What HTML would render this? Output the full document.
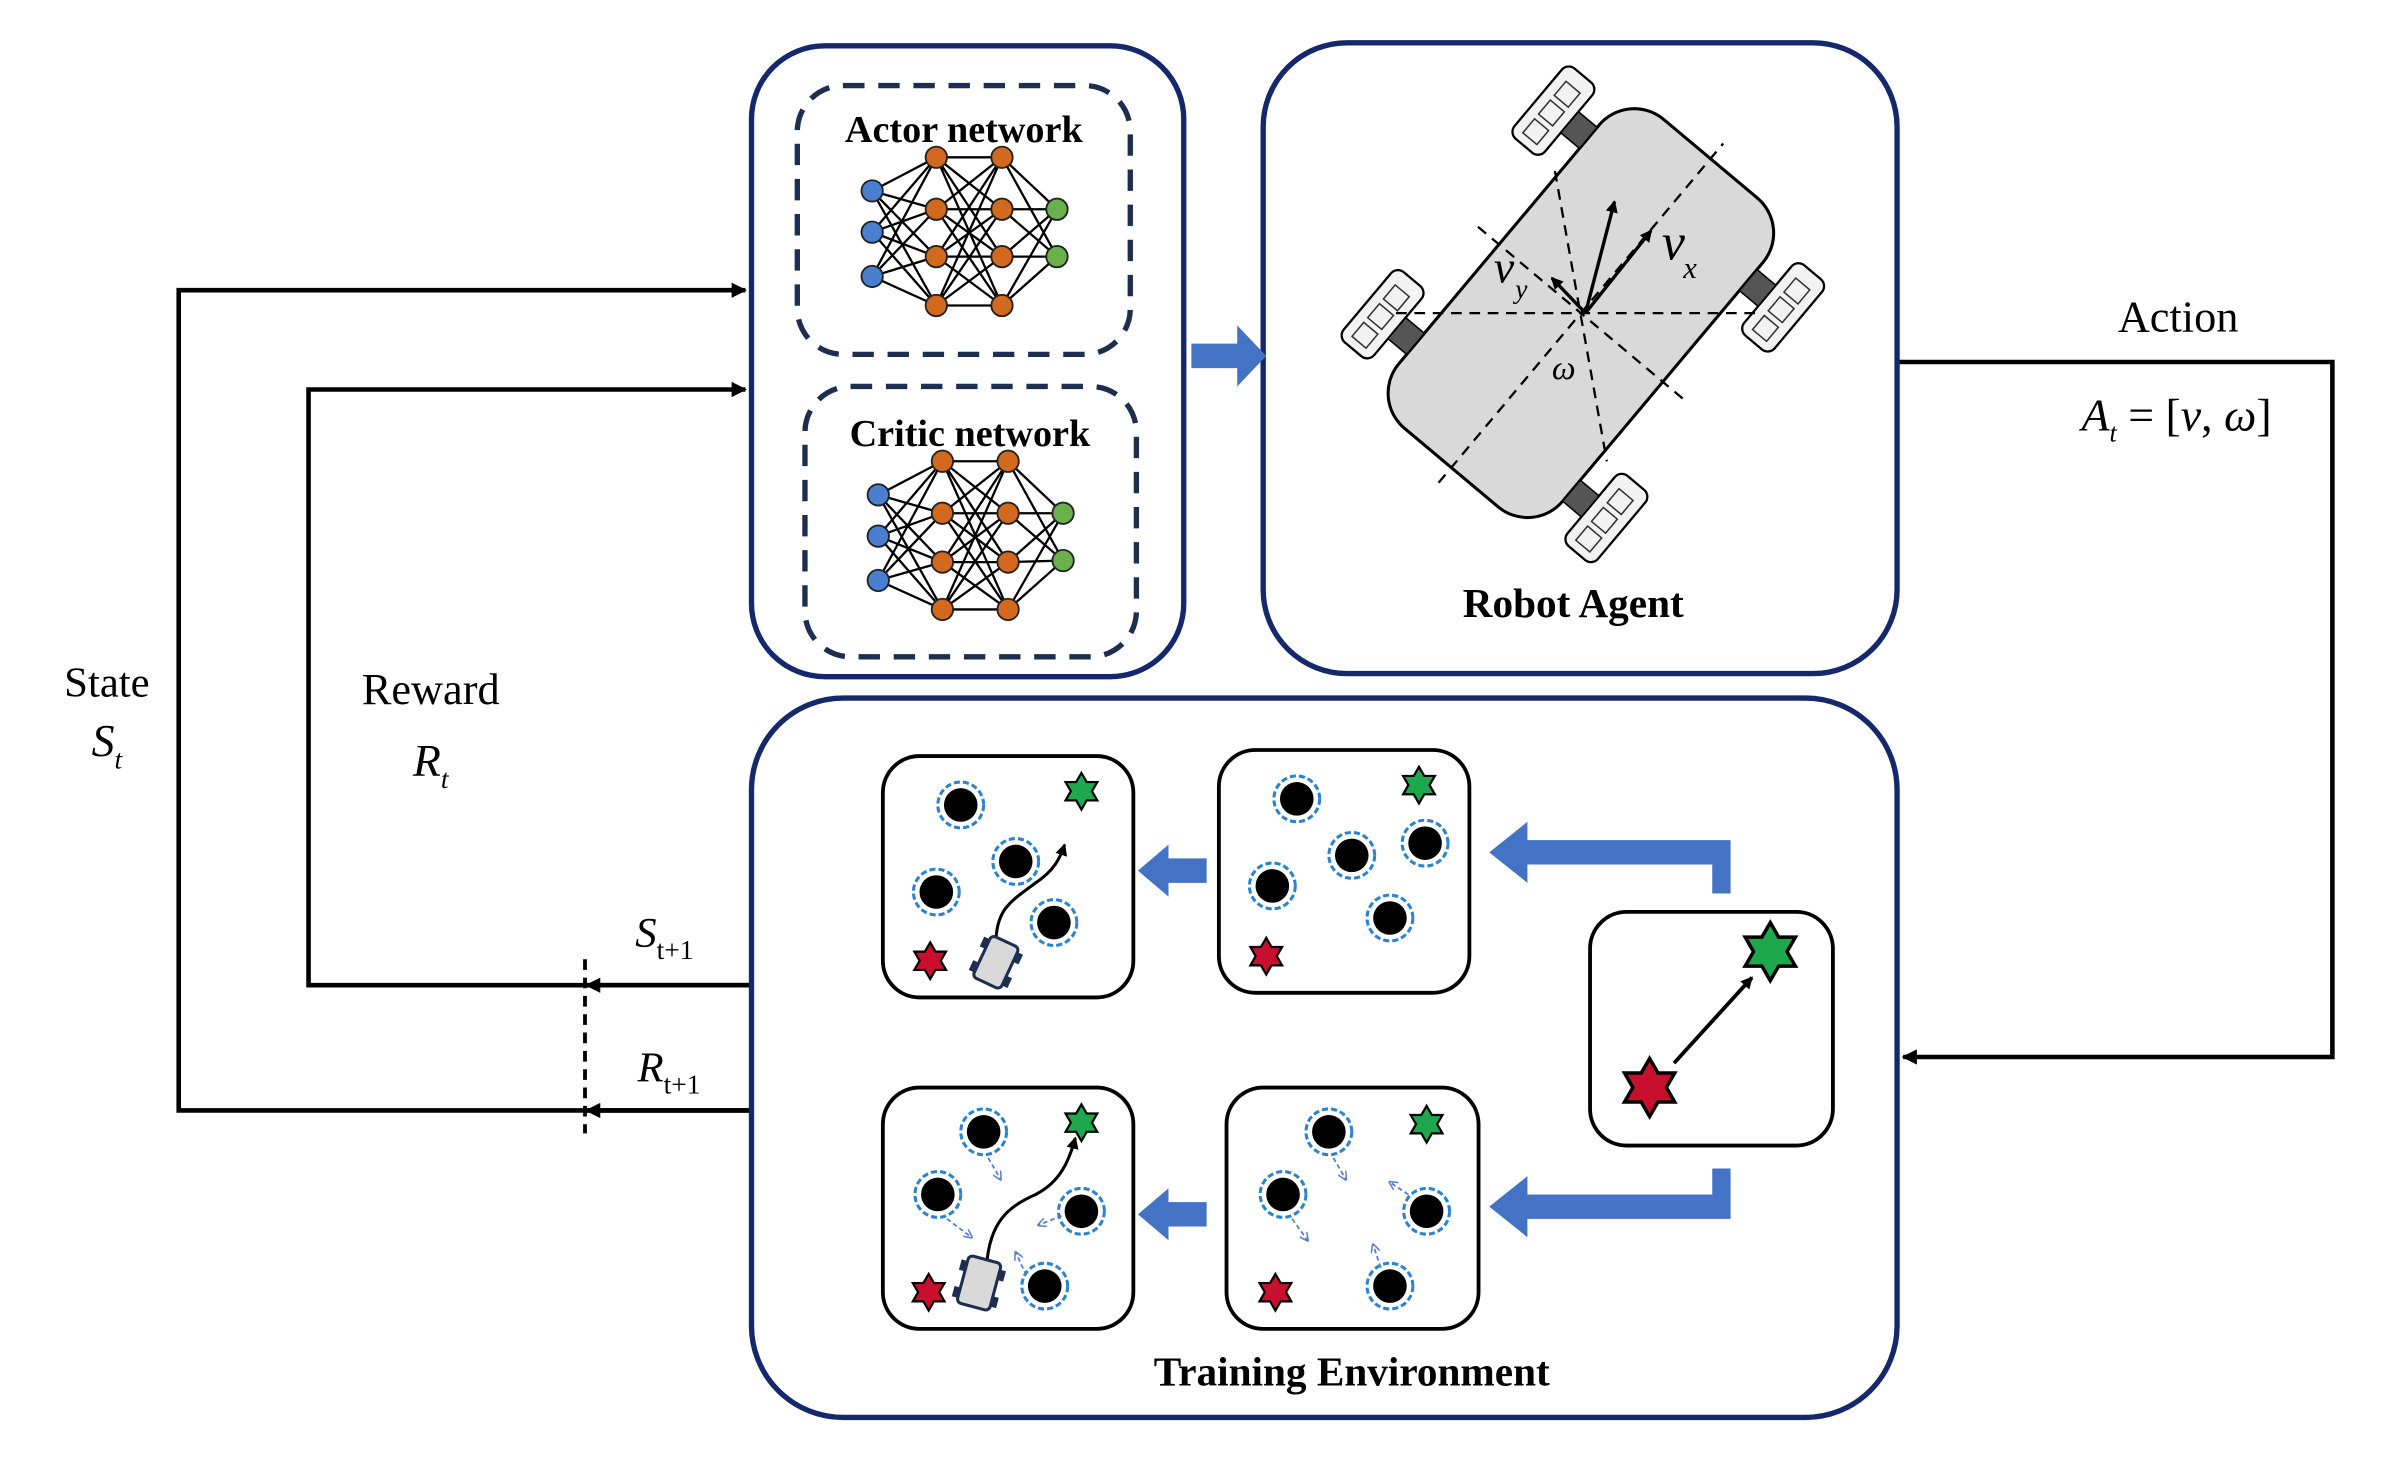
<!DOCTYPE html>
<html><head><meta charset="utf-8"><style>html,body{margin:0;padding:0;background:#fff}svg{display:block}</style></head>
<body>
<svg width="2395" height="1461" viewBox="0 0 1568 956.5" preserveAspectRatio="none" xmlns="http://www.w3.org/2000/svg" font-family="Liberation Serif, serif">
<defs>
<marker id="ah" markerWidth="10" markerHeight="10" refX="9" refY="5" orient="auto" markerUnits="userSpaceOnUse"><path d="M0,0 L10,5 L0,10 Z" fill="#000"/></marker>
<marker id="ahs" markerWidth="8" markerHeight="8" refX="7" refY="4" orient="auto" markerUnits="userSpaceOnUse"><path d="M0,0 L8,4 L0,8 Z" fill="#000"/></marker>
<marker id="ahb" markerWidth="6" markerHeight="6" refX="5" refY="3" orient="auto" markerUnits="userSpaceOnUse"><path d="M0,0 L6,3 L0,6" fill="none" stroke="#5b7fd0" stroke-width="1"/></marker>
<polygon id="star" points="0,-1 0.289,-0.5 0.866,-0.5 0.577,0 0.866,0.5 0.289,0.5 0,1 -0.289,0.5 -0.866,0.5 -0.577,0 -0.866,-0.5 -0.289,-0.5" stroke="#000" stroke-width="0.12"/>
<g id="obs"><circle r="15" fill="none" stroke="#2b83d0" stroke-width="2" stroke-dasharray="4,2"/><circle r="11" fill="#000"/></g>
</defs>

<g stroke="#000" stroke-width="3" fill="none">
<polyline points="492,727 117,727 117,190 488,190" marker-end="url(#ah)"/>
<polyline points="492,645 202,645 202,255 488,255" marker-end="url(#ah)"/>
<line x1="492" y1="645" x2="384" y2="645" marker-end="url(#ah)"/>
<line x1="492" y1="727" x2="384" y2="727" marker-end="url(#ah)"/>
<polyline points="1242,237 1527,237 1527,692 1246,692" marker-end="url(#ah)"/>
</g>
<line x1="383" y1="628" x2="383" y2="742" stroke="#000" stroke-width="2.5" stroke-dasharray="7,5"/>

<text x="70" y="456" font-size="28" text-anchor="middle">State</text>
<text x="70" y="495" font-size="30" text-anchor="middle" font-style="italic">S<tspan font-size="18" dy="8">t</tspan></text>
<text x="282" y="461" font-size="29" text-anchor="middle">Reward</text>
<text x="282" y="508" font-size="30" text-anchor="middle" font-style="italic">R<tspan font-size="18" dy="8">t</tspan></text>
<text x="435" y="620" font-size="28" text-anchor="middle" font-style="italic">S<tspan font-size="18" dy="8" font-style="normal">t+1</tspan></text>
<text x="438" y="708" font-size="28" text-anchor="middle" font-style="italic">R<tspan font-size="18" dy="8" font-style="normal">t+1</tspan></text>
<text x="1426" y="217" font-size="29" text-anchor="middle">Action</text>
<text x="1425" y="282" font-size="30" text-anchor="middle" font-style="italic">A<tspan font-size="17" dy="7">t</tspan><tspan dy="-7" font-style="normal"> = [</tspan>v<tspan font-style="normal">, </tspan>ω<tspan font-style="normal">]</tspan></text>

<g fill="none" stroke="#14286b" stroke-width="3.5">
<rect x="492" y="30" width="283" height="413" rx="48"/>
<rect x="827" y="28" width="415" height="413" rx="55"/>
<rect x="492" y="457" width="750" height="471" rx="60"/>
</g>
<g fill="none" stroke="#1e2e50" stroke-width="3.5" stroke-dasharray="14,9">
<rect x="522" y="56" width="218" height="176" rx="30"/>
<rect x="527" y="253" width="217" height="177" rx="30"/>
</g>
<text x="631" y="93" font-size="25" font-weight="bold" text-anchor="middle">Actor network</text>
<text x="635" y="292" font-size="25" font-weight="bold" text-anchor="middle">Critic network</text>

<g stroke="#000" stroke-width="1.5">
<path d="M571,125L613,103M571,125L613,137M571,125L613,168M571,125L613,200M571,152L613,103M571,152L613,137M571,152L613,168M571,152L613,200M571,181L613,103M571,181L613,137M571,181L613,168M571,181L613,200
M613,103L656,103M613,103L656,137M613,103L656,168M613,103L656,200M613,137L656,103M613,137L656,137M613,137L656,168M613,137L656,200M613,168L656,103M613,168L656,137M613,168L656,168M613,168L656,200M613,200L656,103M613,200L656,137M613,200L656,168M613,200L656,200
M656,103L692,137M656,103L692,168M656,137L692,137M656,137L692,168M656,168L692,137M656,168L692,168M656,200L692,137M656,200L692,168"/>
<path d="M575,324L617,302M575,324L617,336M575,324L617,368M575,324L617,399M575,351L617,302M575,351L617,336M575,351L617,368M575,351L617,399M575,380L617,302M575,380L617,336M575,380L617,368M575,380L617,399
M617,302L660,302M617,302L660,336M617,302L660,368M617,302L660,399M617,336L660,302M617,336L660,336M617,336L660,368M617,336L660,399M617,368L660,302M617,368L660,336M617,368L660,368M617,368L660,399M617,399L660,302M617,399L660,336M617,399L660,368M617,399L660,399
M660,302L696,336M660,302L696,367M660,336L696,336M660,336L696,367M660,368L696,336M660,368L696,367M660,399L696,336M660,399L696,367"/>
</g>
<g stroke="#222" stroke-width="1.2">
<g fill="#4a7fd0"><circle cx="571" cy="125" r="7"/><circle cx="571" cy="152" r="7"/><circle cx="571" cy="181" r="7"/><circle cx="575" cy="324" r="7"/><circle cx="575" cy="351" r="7"/><circle cx="575" cy="380" r="7"/></g>
<g fill="#d2691e"><circle cx="613" cy="103" r="7"/><circle cx="613" cy="137" r="7"/><circle cx="613" cy="168" r="7"/><circle cx="613" cy="200" r="7"/><circle cx="656" cy="103" r="7"/><circle cx="656" cy="137" r="7"/><circle cx="656" cy="168" r="7"/><circle cx="656" cy="200" r="7"/>
<circle cx="617" cy="302" r="7"/><circle cx="617" cy="336" r="7"/><circle cx="617" cy="368" r="7"/><circle cx="617" cy="399" r="7"/><circle cx="660" cy="302" r="7"/><circle cx="660" cy="336" r="7"/><circle cx="660" cy="368" r="7"/><circle cx="660" cy="399" r="7"/></g>
<g fill="#6ab04c"><circle cx="692" cy="137" r="7"/><circle cx="692" cy="168" r="7"/><circle cx="696" cy="336" r="7"/><circle cx="696" cy="367" r="7"/></g>
</g>

<polygon points="780,225 810,225 810,213 829,233 810,253 810,241 780,241" fill="#4472c4"/>

<g transform="translate(1035,205) rotate(-50)">
<rect x="-132" y="-70" width="264" height="140" rx="30" fill="#d9d9d9" stroke="#000" stroke-width="2"/>
<g fill="#f2f2f2" stroke="#000" stroke-width="1.5">
<rect x="60" y="-112" width="60" height="26" rx="6"/>
<rect x="-114" y="-112" width="60" height="26" rx="6"/>
<rect x="58" y="86" width="60" height="26" rx="6"/>
<rect x="-122" y="86" width="60" height="26" rx="6"/>
</g>
<g fill="#555" stroke="#000"><rect x="82" y="-86" width="18" height="16"/><rect x="-94" y="-86" width="18" height="16"/><rect x="78" y="70" width="18" height="16"/><rect x="-102" y="70" width="18" height="16"/></g>
<g fill="none" stroke="#333" stroke-width="1"><rect x="66" y="-105" width="12" height="12"/><rect x="82" y="-105" width="12" height="12"/><rect x="98" y="-105" width="12" height="12"/><rect x="-108" y="-105" width="12" height="12"/><rect x="-92" y="-105" width="12" height="12"/><rect x="-76" y="-105" width="12" height="12"/><rect x="64" y="93" width="12" height="12"/><rect x="80" y="93" width="12" height="12"/><rect x="96" y="93" width="12" height="12"/><rect x="-116" y="93" width="12" height="12"/><rect x="-100" y="93" width="12" height="12"/><rect x="-84" y="93" width="12" height="12"/></g>
<g stroke="#000" stroke-width="1.5" stroke-dasharray="7,5"><line x1="-145" y1="0" x2="145" y2="0"/><line x1="0" y1="-88" x2="0" y2="88"/></g>
</g>
<g stroke="#000" stroke-width="1.5" stroke-dasharray="7,5" fill="none">
<line x1="914" y1="205" x2="1150" y2="205"/>
<line x1="1018" y1="112" x2="1052" y2="302"/>
</g>
<g stroke="#000" stroke-width="2.2" fill="none">
<line x1="1038" y1="205" x2="1081" y2="151" marker-end="url(#ahs)"/>
<line x1="1038" y1="205" x2="1057" y2="132" marker-end="url(#ahs)"/>
<line x1="1038" y1="205" x2="1016" y2="182" marker-end="url(#ahs)"/>
</g>
<text x="1088" y="170" font-size="34" font-style="italic">v</text>
<text x="1102" y="182" font-size="20" font-style="italic">x</text>
<text x="978" y="185" font-size="30" font-style="italic">v</text>
<text x="992" y="195" font-size="18" font-style="italic">y</text>
<text x="1016" y="248" font-size="22" font-style="italic">ω</text>
<text x="1030" y="404" font-size="27" font-weight="bold" text-anchor="middle">Robot Agent</text>

<g fill="#fff" stroke="#000" stroke-width="2.5">
<rect x="578" y="495" width="164" height="158" rx="24"/>
<rect x="798" y="491" width="164" height="159" rx="24"/>
<rect x="1041" y="597" width="159" height="153" rx="24"/>
<rect x="578" y="712" width="164" height="158" rx="24"/>
<rect x="803" y="712" width="165" height="158" rx="24"/>
</g>
<g fill="#4472c4">
<polygon points="790,562 765,562 765,553 745,570 765,587 765,578 790,578"/>
<polygon points="790,787 765,787 765,778 745,795 765,812 765,803 790,803"/>
<polygon points="1133,585 1121,585 1121,566 1000,566 1000,578 975,558 1000,538 1000,550 1133,550"/>
<polygon points="1133,765 1121,765 1121,782 1000,782 1000,770 975,790 1000,810 1000,798 1133,798"/>
</g>
<use href="#obs" x="629" y="527"/><use href="#obs" x="665" y="564"/><use href="#obs" x="613" y="584"/><use href="#obs" x="690" y="604"/>
<use href="#star" transform="translate(708,518) scale(12)" fill="#1ea84e"/>
<use href="#star" transform="translate(609,629) scale(12)" fill="#c8102e"/>
<path d="M652,618 C652,595 662,590 678,578 C690,570 694,562 697,553" fill="none" stroke="#000" stroke-width="2" marker-end="url(#ahs)"/>
<g transform="translate(652,630) rotate(25)"><rect x="-10" y="-15" width="20" height="30" rx="3" fill="#d9d9d9" stroke="#1e2e50" stroke-width="2"/><rect x="-14" y="-12" width="4" height="7" fill="#1e2e50"/><rect x="10" y="-12" width="4" height="7" fill="#1e2e50"/><rect x="-14" y="5" width="4" height="7" fill="#1e2e50"/><rect x="10" y="5" width="4" height="7" fill="#1e2e50"/></g>
<use href="#obs" x="849" y="523"/><use href="#obs" x="885" y="560"/><use href="#obs" x="933" y="552"/><use href="#obs" x="833" y="580"/><use href="#obs" x="910" y="601"/>
<use href="#star" transform="translate(929,514) scale(12)" fill="#1ea84e"/>
<use href="#star" transform="translate(829,626) scale(12)" fill="#c8102e"/>
<use href="#star" transform="translate(1159,623) scale(19)" fill="#1ea84e"/>
<use href="#star" transform="translate(1080,712) scale(19)" fill="#c8102e"/>
<line x1="1096" y1="696" x2="1147" y2="640" stroke="#000" stroke-width="2.5" marker-end="url(#ahs)"/>
<use href="#obs" x="644" y="741"/><use href="#obs" x="614" y="782"/><use href="#obs" x="708" y="793"/><use href="#obs" x="684" y="842"/>
<use href="#star" transform="translate(708,735) scale(12)" fill="#1ea84e"/>
<use href="#star" transform="translate(608,846) scale(12)" fill="#c8102e"/>
<path d="M646,828 C648,800 660,790 678,782 C694,774 700,760 704,745" fill="none" stroke="#000" stroke-width="2" marker-end="url(#ahs)"/>
<g stroke="#5b7fd0" stroke-width="1.2" stroke-dasharray="3,2" fill="none">
<line x1="647" y1="758" x2="655" y2="772" marker-end="url(#ahb)"/>
<line x1="620" y1="798" x2="636" y2="810" marker-end="url(#ahb)"/>
<line x1="695" y1="796" x2="680" y2="802" marker-end="url(#ahb)"/>
<line x1="672" y1="835" x2="665" y2="820" marker-end="url(#ahb)"/>
</g>
<g transform="translate(641,840) rotate(15)"><rect x="-11" y="-16" width="22" height="32" rx="3" fill="#d9d9d9" stroke="#1e2e50" stroke-width="2"/><rect x="-15" y="-12" width="4" height="7" fill="#1e2e50"/><rect x="11" y="-12" width="4" height="7" fill="#1e2e50"/><rect x="-15" y="6" width="4" height="7" fill="#1e2e50"/><rect x="11" y="6" width="4" height="7" fill="#1e2e50"/></g>
<use href="#obs" x="870" y="741"/><use href="#obs" x="840" y="782"/><use href="#obs" x="934" y="793"/><use href="#obs" x="910" y="842"/>
<use href="#star" transform="translate(934,736) scale(12)" fill="#1ea84e"/>
<use href="#star" transform="translate(835,846) scale(12)" fill="#c8102e"/>
<g stroke="#5b7fd0" stroke-width="1.2" stroke-dasharray="3,2" fill="none">
<line x1="873" y1="758" x2="881" y2="772" marker-end="url(#ahb)"/>
<line x1="846" y1="798" x2="856" y2="812" marker-end="url(#ahb)"/>
<line x1="922" y1="782" x2="910" y2="774" marker-end="url(#ahb)"/>
<line x1="904" y1="830" x2="899" y2="815" marker-end="url(#ahb)"/>
</g>
<text x="885" y="907" font-size="27" font-weight="bold" text-anchor="middle">Training Environment</text>
</svg>
</body></html>
